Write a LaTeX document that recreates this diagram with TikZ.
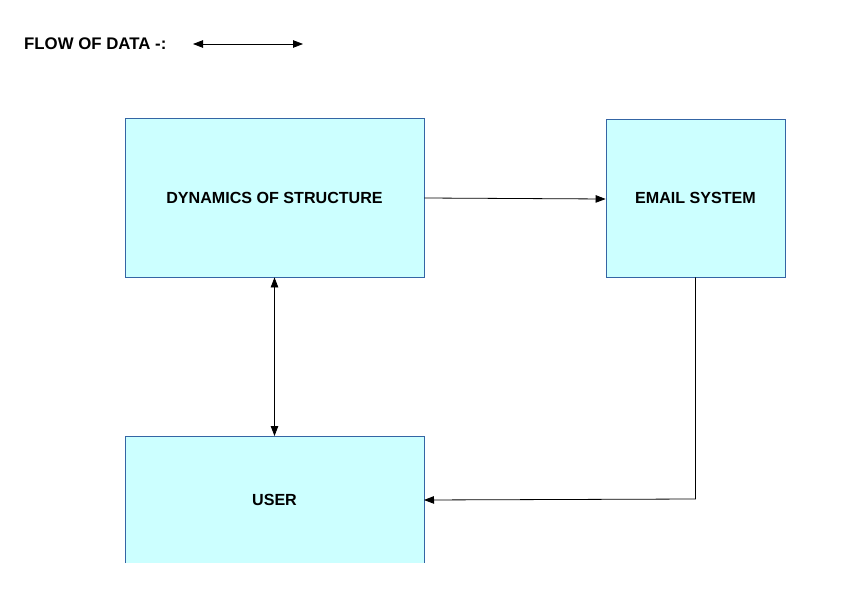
\documentclass[tikz,border=0pt]{standalone}
\usepackage{fontspec}
\setmainfont{Liberation Sans}
\usetikzlibrary{arrows.meta}
\definecolor{boxfill}{HTML}{CCFFFF}
\definecolor{boxline}{HTML}{3465A4}
\tikzset{
  blockbox/.style={draw=boxline, fill=boxfill, line width=0.8bp, inner sep=0pt},
  lbl/.style={font=\fontsize{16.1bp}{19bp}\selectfont\bfseries, inner sep=0pt},
  legendlbl/.style={font=\fontsize{16.8bp}{20bp}\selectfont\bfseries, inner sep=0pt},
  flow/.style={line width=0.8bp, -{Triangle[length=10bp,width=7.5bp]}},
  flowboth/.style={line width=0.8bp, {Triangle[length=10bp,width=7.5bp]}-{Triangle[length=10bp,width=7.5bp]}}
}
\begin{document}
\begin{tikzpicture}[x=1bp,y=-1bp]
\useasboundingbox (0,0) rectangle (842,595);
% boxes
\node[blockbox, minimum width=299bp, minimum height=159bp] (dyn) at (274.5,197.5) {};
\node[lbl] at (dyn.center) {DYNAMICS OF STRUCTURE};
\node[blockbox, minimum width=179bp, minimum height=158bp] (mail) at (695.5,198) {};
\node[lbl] at (mail.center) {EMAIL SYSTEM};
% user box (cut at bottom)
\fill[boxfill] (125,436) rectangle (424,563);
\draw[boxline, line width=0.8bp] (125,563) -- (125,436) -- (424,436) -- (424,563);
\coordinate (usertop) at (274.5,436);
\coordinate (userright) at (424,500);
\node[lbl] (user) at (274.5,500) {USER};
% legend
\node[legendlbl, anchor=west] (legend) at (24,44) {FLOW OF DATA -:};
\coordinate (la) at (193,44);
\coordinate (lb) at (303,44);
\draw[flowboth] (la) -- (lb);
% connectors
\draw[flow] (dyn.east |- 0,198) -- (mail.west |- 0,199);
\draw[flowboth] (dyn.south) -- (usertop);
\coordinate (bend) at (695.5,499);
\draw[flow] (mail.south) -- (bend) -- (userright);
\end{tikzpicture}
\end{document}
